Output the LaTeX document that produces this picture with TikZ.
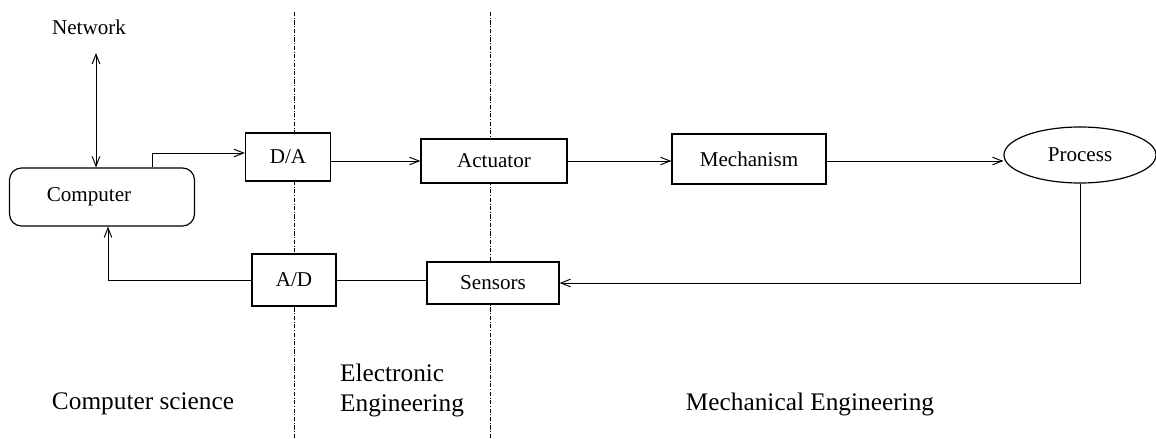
\documentclass[tikz,border=0pt]{standalone}
\usepackage{fontspec}
\setmainfont{Liberation Serif}
\usetikzlibrary{shapes.geometric,arrows.meta}
\newcommand{\blkfont}{\fontsize{15}{17}\selectfont}
\newcommand{\areafont}{\fontsize{18}{21.3}\selectfont}
\tikzset{
  blk/.style={draw, fill=white, line width=0.85pt, inner sep=2pt, font=\blkfont},
  divider/.style={line width=0.55pt, dash pattern=on 3pt off 1.2pt on 0.6pt off 1.2pt},
}
\begin{document}
\begin{tikzpicture}[x=0.025cm, y=-0.025cm, line width=0.7pt,
  >={Straight Barb[length=2.4mm,width=1.9mm]}]
\useasboundingbox (0,0) rectangle (1156,439);
% borders between the fields
\draw[divider] (294,12) -- (294,439);
\draw[divider] (490,12) -- (490,439);

% blocks
\node[blk, rounded corners=3mm, minimum width=4.625cm, minimum height=1.45cm] (comp) at (102,197) {Computer\kern0.65cm};
\node[blk, minimum width=2.125cm, minimum height=1.2cm] (da) at (288,157) {D/A};
\node[blk, minimum width=3.65cm, minimum height=1.1cm] (act) at (494,161) {Actuator};
\node[blk, minimum width=3.85cm, minimum height=1.25cm] (mech) at (749,159) {Mechanism};
\node[blk, ellipse, minimum width=3.8cm, minimum height=1.4cm] (proc) at (1080,155) {Process};
\node[blk, minimum width=2.1cm, minimum height=1.3cm] (ad) at (294,280) {A/D};
\node[blk, minimum width=3.3cm, minimum height=1.05cm] (sens) at (493,283) {Sensors};
\node[font=\blkfont] (net) at (89,27) {Network};
\coordinate (netarr) at (96,53);

% forward path
\draw[<->] (netarr) -- (netarr |- comp.north);
\draw[->] ([xshift=1.25cm]comp.north) |- ([yshift=0.1cm]da.west);
\draw[->] (act.west -| da.east) -- (act.west);
\draw[->] (act.east) -- (act.east -| mech.west);
\draw[->] (act.east -| mech.east) -- (act.east -| proc.west);

% feedback path
\draw[->] (proc.south) |- (sens.east);
\draw (ad.east) -- (ad.east -| sens.west);
\draw[->] (ad.west) -| ([xshift=0.15cm]comp.south);

% fields
\node[font=\areafont] (cs) at (143,404) {Computer science};
\node[font=\areafont, align=left, anchor=west] (ee) at (335,390) {Electronic\\Engineering};
\node[font=\areafont] (me) at (810,404) {Mechanical Engineering};
\end{tikzpicture}
\end{document}
